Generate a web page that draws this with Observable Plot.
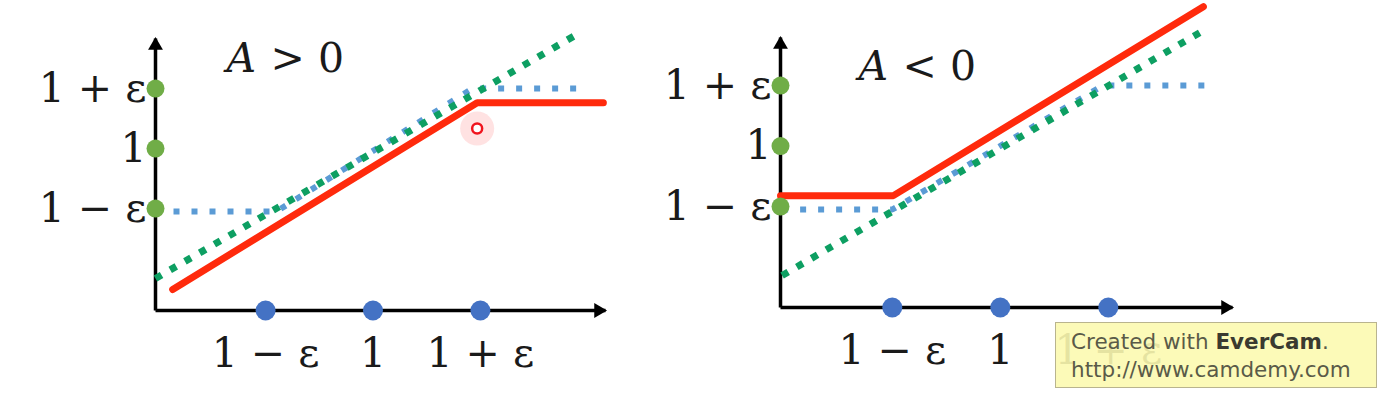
<!DOCTYPE html>
<html>
<head>
<meta charset="utf-8">
<script src="https://cdn.jsdelivr.net/npm/d3@7"></script>
<script src="https://cdn.jsdelivr.net/npm/@observablehq/plot@0.6"></script>
<style>
  html, body { margin: 0; padding: 0; background: #fff; }
  #wrap { position: relative; width: 1383px; height: 399px; overflow: hidden; }
  #wrap svg { position: absolute; left: 0; top: 0; }
  #mark {
    position: absolute; left: 1055px; top: 322px; width: 322px; height: 66px;
    background: rgba(252, 249, 176, 0.9); border: 1.5px solid #b9b48e;
    font-family: "DejaVu Sans", sans-serif; font-size: 21.5px; color: #5a5a48;
    line-height: 28px; padding: 5px 0 0 15px; box-sizing: border-box; white-space: nowrap;
  }
  #mark b { color: #3a3a30; }
</style>
</head>
<body>
<div id="wrap"></div>
<script>
// ---- data (epsilon drawn as 0.2) ----
const tickValues = [0.8, 1.0, 1.2];
const tickLabels = ["1 − ε", "1", "1 + ε"];

// Left panel: A > 0
const leftGreenX = [0.595, 1.382];
const leftGreenY = [0.567, 1.383];
const leftBlueX  = [0.595, 0.82, 1.185, 1.386];
const leftBlueY  = [0.79, 0.79, 1.2, 1.2];
const leftRedX   = [0.627, 1.194, 1.429];
const leftRedY   = [0.53, 1.153, 1.153];
const leftCursor = [{x: 1.194, y: 1.067}];

// Right panel: A < 0
const rightGreenX = [0.596, 1.376];
const rightGreenY = [0.572, 1.382];
const rightBlueX  = [0.596, 0.8, 1.19, 1.383];
const rightBlueY  = [0.79, 0.79, 1.2, 1.2];
const rightRedX   = [0.593, 0.802, 1.376];
const rightRedY   = [0.836, 0.836, 1.461];

const zip = (xs, ys) => xs.map((x, i) => ({x, y: ys[i]}));

const GREEN_LINE = "#0d9f62", BLUE_LINE = "#5b9bd5", RED = "#ff2a0c";
const GREEN_DOT = "#70ad47", BLUE_DOT = "#4472c4";
const FONT = "DejaVu Serif";

function panel({xDomain, xRange, yDomain, yRange, green, blue, red, sign, extra = []}) {
  const x0 = xDomain[0], x1 = xDomain[1], y0 = yDomain[0], y1 = yDomain[1];
  const ticks = tickValues.map((v, i) => ({v, label: tickLabels[i]}));
  return Plot.plot({
    width: 1383, height: 399,
    x: {domain: xDomain, range: xRange, axis: null},
    y: {domain: yDomain, range: yRange, axis: null},
    style: {background: "transparent", overflow: "visible"},
    marks: [
      // axes
      Plot.link([{x1: x0, y1: y0, x2: x1, y2: y0}], {x1: "x1", y1: "y1", x2: "x2", y2: "y2", stroke: "#000", strokeWidth: 3.5}),
      Plot.link([{x1: x0, y1: y0, x2: x0, y2: y1}], {x1: "x1", y1: "y1", x2: "x2", y2: "y2", stroke: "#000", strokeWidth: 3.5}),
      Plot.dot([{x: x1, y: y0}], {x: "x", y: "y", symbol: "triangle", rotate: 90, r: 5.5, fill: "#000", stroke: "none", dx: -7}),
      Plot.dot([{x: x0, y: y1}], {x: "x", y: "y", symbol: "triangle", r: 5.5, fill: "#000", stroke: "none", dy: 7}),
      // series
      Plot.line(blue, {x: "x", y: "y", stroke: BLUE_LINE, strokeWidth: 6, strokeDasharray: "6,12", strokeLinecap: "butt", strokeLinejoin: "miter"}),
      Plot.line(green, {x: "x", y: "y", stroke: GREEN_LINE, strokeWidth: 7, strokeDasharray: "7,10", strokeLinecap: "butt"}),
      Plot.line(red, {x: "x", y: "y", stroke: RED, strokeWidth: 7, strokeLinejoin: "miter"}),
      ...extra,
      // tick dots
      Plot.dot(tickValues, {x: x0, y: d => d, r: 9, fill: GREEN_DOT, stroke: "none"}),
      Plot.dot(tickValues, {x: d => d, y: y0, r: 10, fill: BLUE_DOT, stroke: "none"}),
      // tick labels
      Plot.text(ticks, {x: x0, y: "v", text: "label", textAnchor: "end", dx: -9, fontFamily: FONT, fontSize: 41, fill: "#1a1a1a"}),
      Plot.text(ticks, {x: "v", y: y0, text: "label", dy: 43, fontFamily: FONT, fontSize: 41, fill: "#1a1a1a"}),
      // panel title
      Plot.text([sign], {frameAnchor: "top-left", text: d => "A", fontFamily: FONT, fontStyle: "italic", fontSize: 41, fill: "#1a1a1a",
        dx: sign.ax, dy: sign.ay, textAnchor: "start"}),
      Plot.text([sign], {frameAnchor: "top-left", text: d => d.rest, fontFamily: FONT, fontSize: 41, fill: "#1a1a1a",
        dx: sign.rx, dy: sign.ay, textAnchor: "start"})
    ],
    marginLeft: 0, marginRight: 0, marginTop: 0, marginBottom: 0
  });
}

const wrap = document.getElementById("wrap");

wrap.append(panel({
  xDomain: [0.595, 1.433], xRange: [155, 605],
  yDomain: [0.46, 1.367], yRange: [310, 38],
  green: zip(leftGreenX, leftGreenY),
  blue: zip(leftBlueX, leftBlueY),
  red: zip(leftRedX, leftRedY),
  sign: {rest: "> 0", ax: 226, rx: 270, ay: 42},
  extra: [
    Plot.dot(leftCursor, {x: "x", y: "y", r: 17, fill: "#ff6060", fillOpacity: 0.18, stroke: "none"}),
    Plot.dot(leftCursor, {x: "x", y: "y", r: 5, fill: "#fff", stroke: "#f0141e", strokeWidth: 2.5})
  ]
}));

wrap.append(panel({
  xDomain: [0.593, 1.43], xRange: [780, 1232],
  yDomain: [0.466, 1.359], yRange: [307, 37],
  green: zip(rightGreenX, rightGreenY),
  blue: zip(rightBlueX, rightBlueY),
  red: zip(rightRedX, rightRedY),
  sign: {rest: "< 0", ax: 858, rx: 902, ay: 50}
}));

const mark = document.createElement("div");
mark.id = "mark";
mark.innerHTML = "Created with <b>EverCam</b>.<br>http://www.camdemy.com";
wrap.append(mark);
</script>
</body>
</html>
